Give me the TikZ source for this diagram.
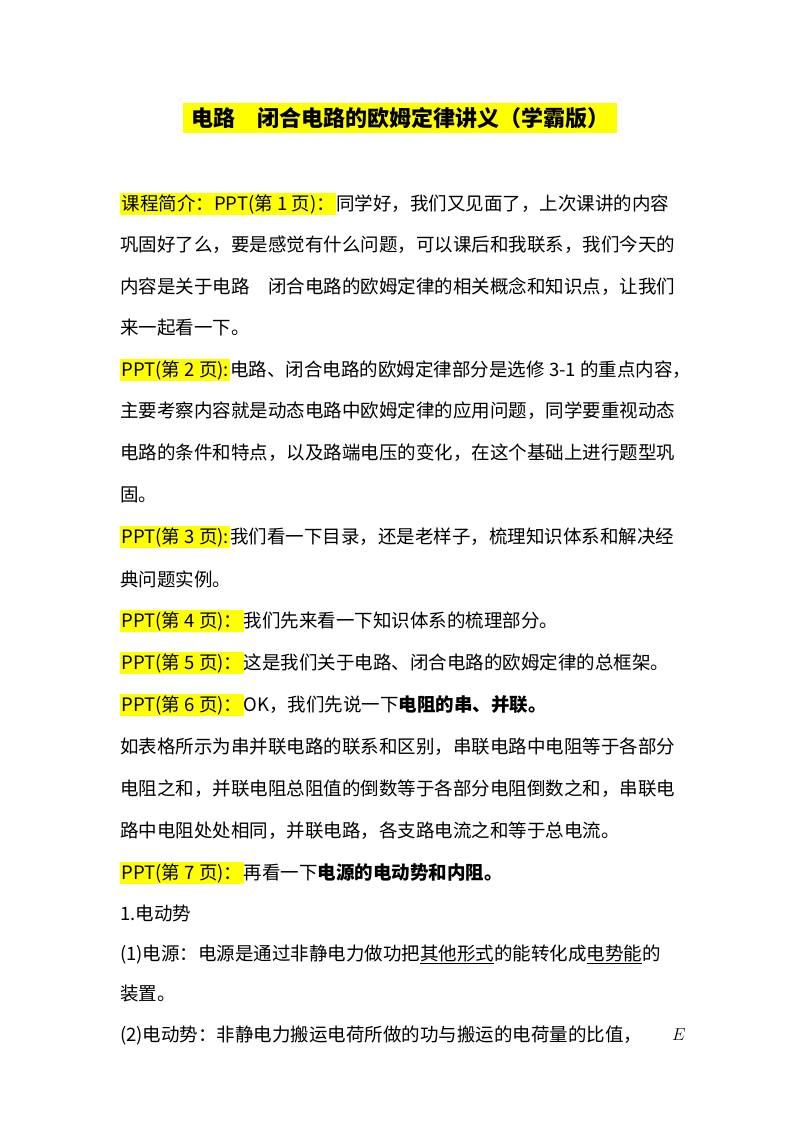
\documentclass[tikz,border=0pt]{standalone}
\usepackage{fontspec}
\setmainfont{Noto Sans CJK SC}
\usepackage{xcolor}
\definecolor{hly}{RGB}{255,255,0}
\newcommand{\hlb}[1]{{\setlength{\fboxsep}{1.5pt}\colorbox{hly}{#1}}}
\begin{document}
\begin{tikzpicture}[x=1pt,y=-1pt,
  ln/.style={anchor=west,inner sep=0pt,font=\fontsize{18.5}{20}\selectfont}]
\useasboundingbox[fill=white] (0,0) rectangle (800,1132);
\node[fill=hly,inner xsep=8pt,inner ysep=4pt,font=\fontsize{22}{24}\selectfont\bfseries] (t) at (400,118) {电路\hspace{1em}闭合电路的欧姆定律讲义（学霸版）};
\node[ln] (l1) at (120,204) {\hlb{课程简介：PPT(第 1 页)：}同学好，我们又见面了，上次课讲的内容};
\node[ln] (l2) at (120,245) {巩固好了么，要是感觉有什么问题，可以课后和我联系，我们今天的};
\node[ln] (l3) at (120,287) {内容是关于电路\hspace{1em}闭合电路的欧姆定律的相关概念和知识点，让我们};
\node[ln] (l4) at (120,328) {来一起看一下。};
\node[ln] (l5) at (120,370) {\hlb{PPT(第 2 页):}电路、闭合电路的欧姆定律部分是选修 3-1 的重点内容，};
\node[ln] (l6) at (120,411) {主要考察内容就是动态电路中欧姆定律的应用问题，同学要重视动态};
\node[ln] (l7) at (120,453) {电路的条件和特点，以及路端电压的变化，在这个基础上进行题型巩};
\node[ln] (l8) at (120,495) {固。};
\node[ln] (l9) at (120,537) {\hlb{PPT(第 3 页):}我们看一下目录，还是老样子，梳理知识体系和解决经};
\node[ln] (l10) at (120,579) {典问题实例。};
\node[ln] (l11) at (120,621) {\hlb{PPT(第 4 页)：}我们先来看一下知识体系的梳理部分。};
\node[ln] (l12) at (120,663) {\hlb{PPT(第 5 页)：}这是我们关于电路、闭合电路的欧姆定律的总框架。};
\node[ln] (l13) at (120,705) {\hlb{PPT(第 6 页)：}OK，我们先说一下\textbf{电阻的串、并联。}};
\node[ln] (l14) at (120,747) {如表格所示为串并联电路的联系和区别，串联电路中电阻等于各部分};
\node[ln] (l15) at (120,789) {电阻之和，并联电阻总阻值的倒数等于各部分电阻倒数之和，串联电};
\node[ln] (l16) at (120,831) {路中电阻处处相同，并联电路，各支路电流之和等于总电流。};
\node[ln] (l17) at (120,873) {\hlb{PPT(第 7 页)：}再看一下\textbf{电源的电动势和内阻。}};
\node[ln] (l18) at (120,913) {1.电动势};
\node[ln] (l19) at (120,954) {(1)电源：电源是通过非静电力做功把\underline{其他形式}的能转化成\underline{电势能}的};
\node[ln] (l20) at (120,994) {装置。};
\node[ln] (l21) at (120,1035) {(2)电动势：非静电力搬运电荷所做的功与搬运的电荷量的比值，};
\node[ln] (e) at (672,1035) {$E$};
\end{tikzpicture}
\end{document}
